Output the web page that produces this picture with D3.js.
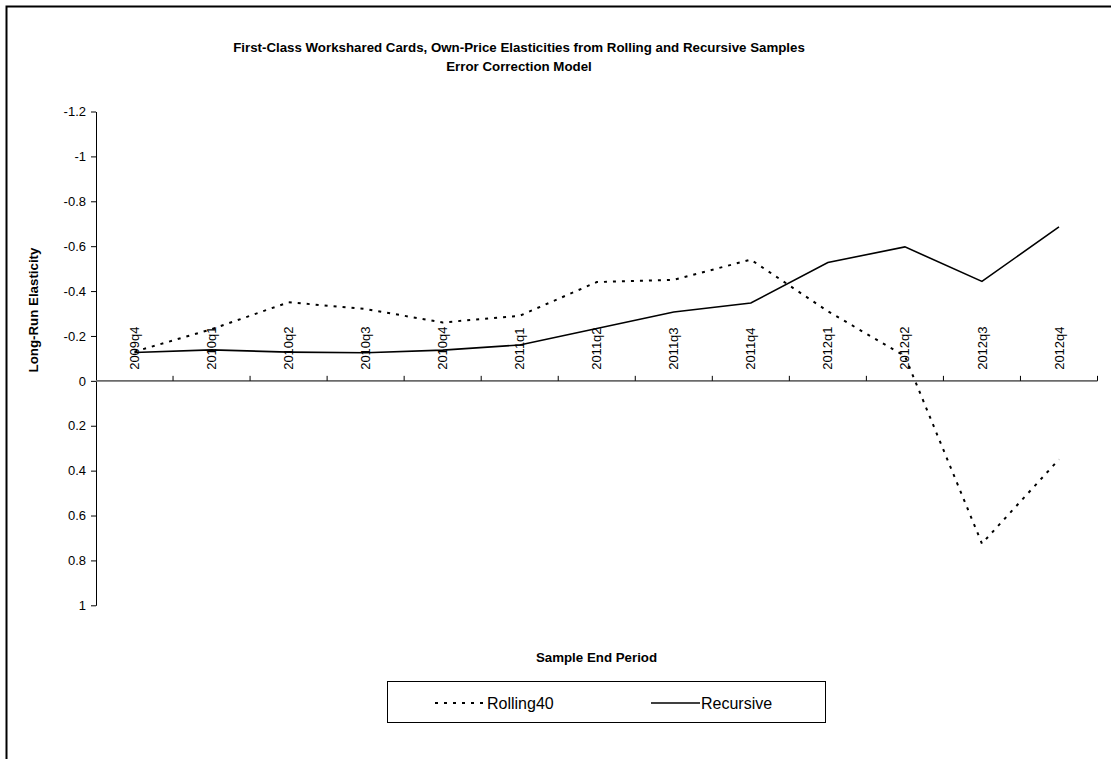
<!DOCTYPE html>
<html>
<head>
<meta charset="utf-8">
<script src="https://cdn.jsdelivr.net/npm/d3@7/dist/d3.min.js"></script>
<style>
  html, body { margin: 0; padding: 0; background: #fff; }
  svg { display: block; font-family: "Liberation Sans", Arial, Helvetica, sans-serif; }
</style>
</head>
<body>
<svg id="chart" width="1111" height="759"></svg>
<script>
// Sample end periods (x categories)
const periods = ["2009q4","2010q1","2010q2","2010q3","2010q4","2011q1","2011q2",
                 "2011q3","2011q4","2012q1","2012q2","2012q3","2012q4"];

// Long-run own-price elasticity estimates
const rolling40 = [-0.13, -0.23, -0.35, -0.32, -0.26, -0.29, -0.44,
                   -0.45, -0.54, -0.31, -0.11, 0.725, 0.35];
const recursive = [-0.126, -0.138, -0.128, -0.125, -0.137, -0.16, -0.233,
                   -0.307, -0.347, -0.527, -0.597, -0.443, -0.686];

// Value-axis ticks (axis is reversed: negative values on top)
const yTicks = [-1.2, -1, -0.8, -0.6, -0.4, -0.2, 0, 0.2, 0.4, 0.6, 0.8, 1];
const yTickLabels = ["-1.2","-1","-0.8","-0.6","-0.4","-0.2","0","0.2","0.4","0.6","0.8","1"];

const titleLines = ["First-Class Workshared Cards, Own-Price Elasticities from Rolling and Recursive Samples",
                    "Error Correction Model"];
const seriesNames = ["Rolling40", "Recursive"];

const svg = d3.select("#chart");

// Chart-area frame
svg.append("rect")
  .attr("x", 6.5).attr("y", 6.5)
  .attr("width", 1300).attr("height", 900)
  .attr("fill", "#fff").attr("stroke", "#000").attr("stroke-width", 2);

const plot = { left: 96, right: 1097.5, top: 111.5, bottom: 605.3 };

const x = d3.scaleBand().domain(periods).range([plot.left, plot.right]);
const y = d3.scaleLinear().domain([-1.2, 1]).range([plot.top, plot.bottom]);
const cx = p => x(p) + x.bandwidth() / 2;

// Title
svg.append("g").selectAll("text").data(titleLines).join("text")
  .attr("x", 519).attr("y", (d, i) => 52 + i * 19)
  .attr("text-anchor", "middle")
  .attr("font-size", "13.3px").attr("font-weight", "bold")
  .text(d => d);

// Y axis
const yAxis = d3.axisLeft(y)
  .tickValues(yTicks)
  .tickFormat((d, i) => yTickLabels[i])
  .tickSize(5).tickSizeOuter(0).tickPadding(5);
const gy = svg.append("g").attr("transform", `translate(${plot.left},0)`).call(yAxis);
gy.select(".domain").attr("stroke", "#000").attr("stroke-width", 1);
gy.selectAll(".tick line").attr("stroke", "#000");
gy.selectAll(".tick text").attr("font-size", "13px").attr("fill", "#000")
  .attr("font-family", "'Liberation Sans', Arial, sans-serif");

// Category axis along the zero line, tick marks at band boundaries pointing up
const y0 = y(0);
const gx = svg.append("g");
gx.append("line")
  .attr("x1", plot.left).attr("x2", plot.right)
  .attr("y1", y0).attr("y2", y0)
  .attr("stroke", "#6b6b6b").attr("stroke-width", 1.6);
gx.selectAll("line.tk").data(periods).join("line")
  .attr("class", "tk")
  .attr("x1", d => x(d) + x.bandwidth()).attr("x2", d => x(d) + x.bandwidth())
  .attr("y1", y0 - 5).attr("y2", y0)
  .attr("stroke", "#000").attr("stroke-width", 1);
gx.selectAll("text").data(periods).join("text")
  .attr("transform", d => `translate(${cx(d)},${y0 - 11}) rotate(-90)`)
  .attr("text-anchor", "start")
  .attr("dy", "0.35em")
  .attr("font-size", "13px")
  .text(d => d);

// Series lines
const line = d3.line().x(d => cx(d.p)).y(d => y(d.v));
const toPts = vals => periods.map((p, i) => ({ p, v: vals[i] }));

svg.append("path")
  .datum(toPts(rolling40))
  .attr("d", line)
  .attr("fill", "none").attr("stroke", "#000")
  .attr("stroke-width", 2).attr("stroke-dasharray", "3,6");

svg.append("path")
  .datum(toPts(recursive))
  .attr("d", line)
  .attr("fill", "none").attr("stroke", "#000")
  .attr("stroke-width", 1.6).attr("stroke-linejoin", "miter");

// Axis titles
svg.append("text")
  .attr("x", 596.5).attr("y", 662)
  .attr("text-anchor", "middle")
  .attr("font-size", "13.3px").attr("font-weight", "bold")
  .text("Sample End Period");

svg.append("text")
  .attr("transform", "translate(33,310) rotate(-90)")
  .attr("text-anchor", "middle")
  .attr("dy", "0.35em")
  .attr("font-size", "13.3px").attr("font-weight", "bold")
  .text("Long-Run Elasticity");

// Legend
const lg = svg.append("g");
lg.append("rect")
  .attr("x", 387.5).attr("y", 681.5).attr("width", 438).attr("height", 41)
  .attr("fill", "#fff").attr("stroke", "#000").attr("stroke-width", 1);
const legendItems = [
  { name: seriesNames[0], x0: 435, x1: 486, dash: "3,6", w: 2 },
  { name: seriesNames[1], x0: 651, x1: 700, dash: null, w: 1.6 }
];
legendItems.forEach(it => {
  lg.append("line")
    .attr("x1", it.x0).attr("x2", it.x1).attr("y1", 703).attr("y2", 703)
    .attr("stroke", "#000").attr("stroke-width", it.w)
    .attr("stroke-dasharray", it.dash);
  lg.append("text")
    .attr("x", it.x1 + 1).attr("y", 709)
    .attr("font-size", "16px")
    .text(it.name);
});
</script>
</body>
</html>
